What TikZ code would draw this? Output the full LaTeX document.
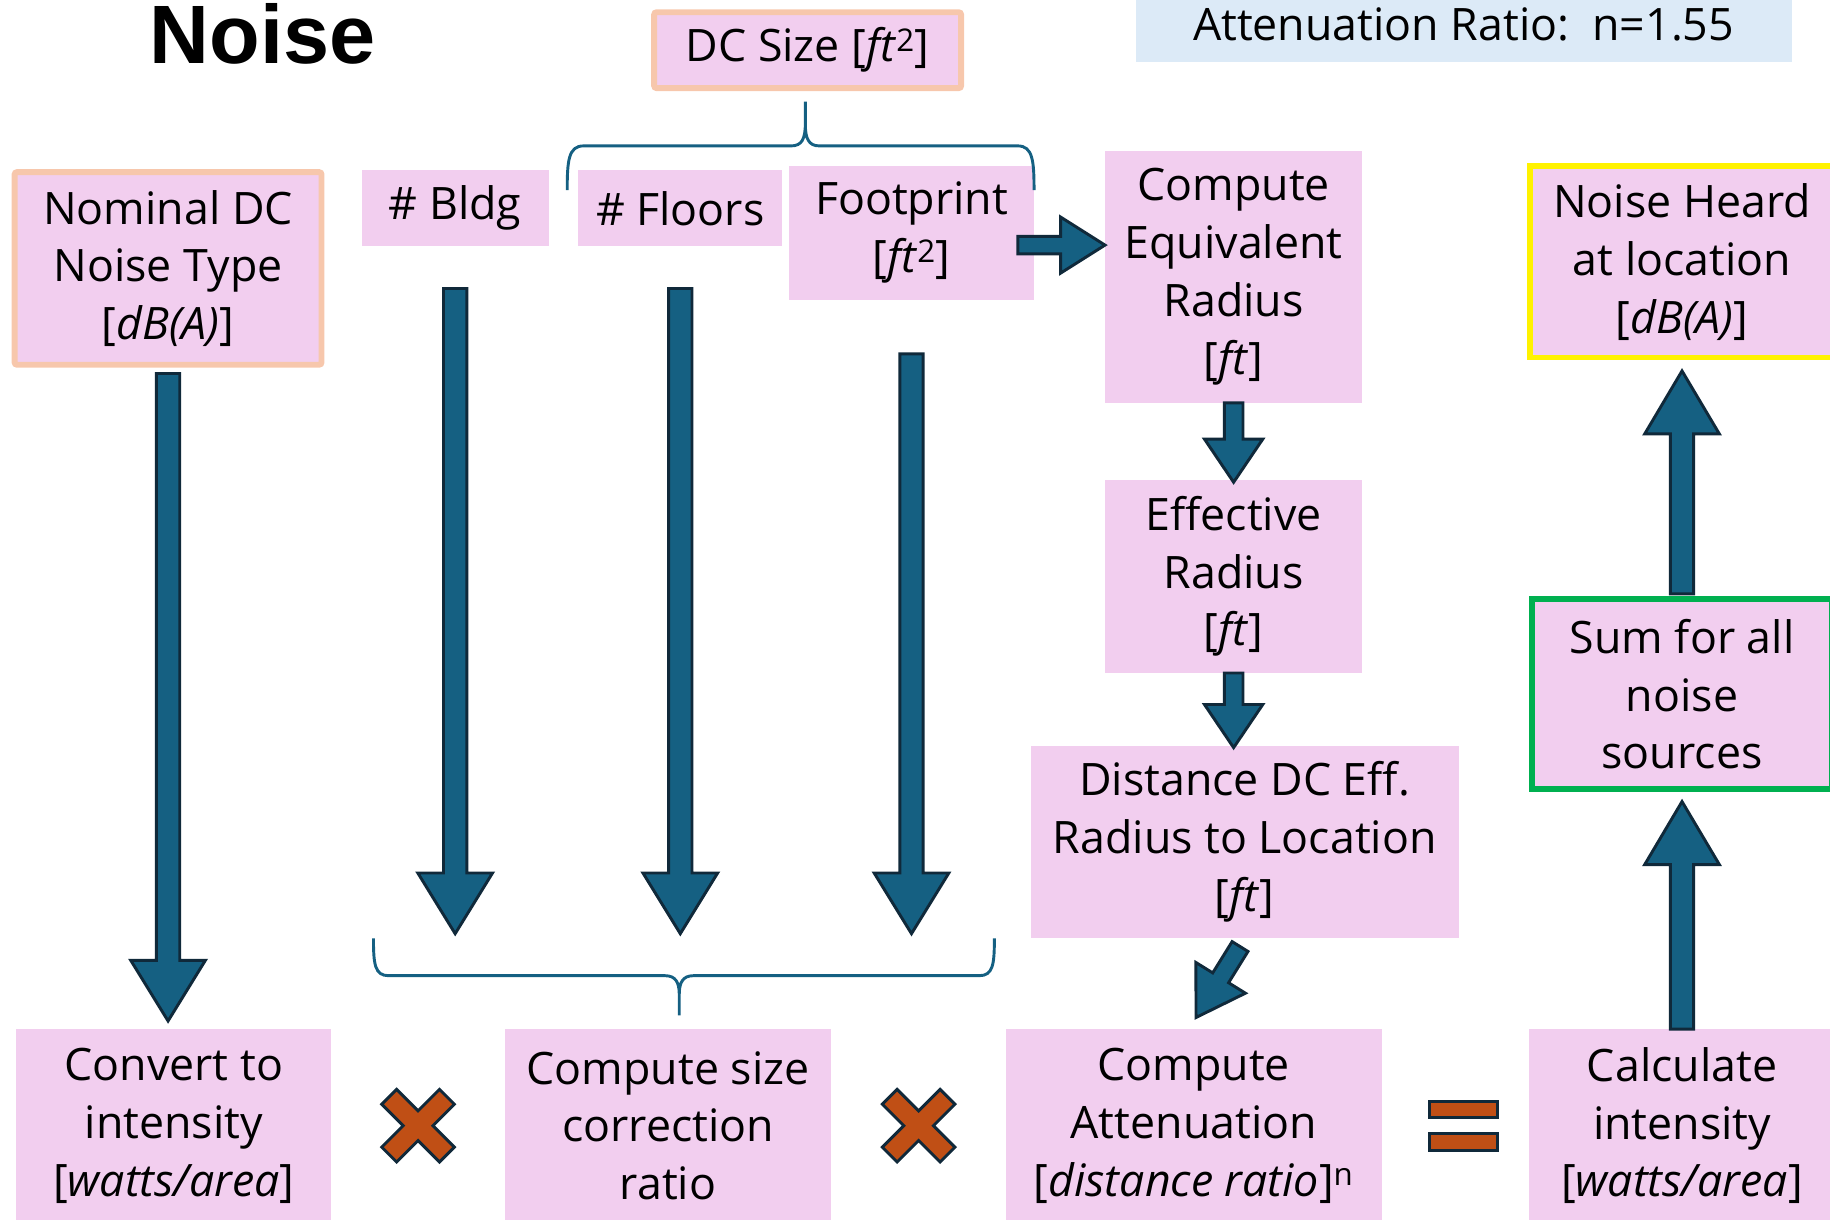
\documentclass[tikz,border=0pt]{standalone}
\usepackage{fontspec}
\setmainfont{Open Sans}
\newfontfamily\titlefont{Liberation Sans}
\usepackage{tikz}
\usetikzlibrary{positioning,calc}

\definecolor{boxpink}{HTML}{F2CEEF}
\definecolor{peach}{HTML}{F7C7AC}
\definecolor{paleblue}{HTML}{DCEAF7}
\definecolor{arrowfill}{HTML}{156082}
\definecolor{arrowline}{HTML}{10293A}
\definecolor{markorange}{HTML}{C04F15}
\definecolor{sumgreen}{HTML}{00B050}

% block arrow: from, to, half shaft, half head, head length
\newcommand{\blockarrow}[5]{%
  \coordinate (ba) at (#1);
  \coordinate (bb) at (#2);
  \coordinate (bn) at ($(bb)!#5!(ba)$);
  \draw[fatarrow] ($(ba)!#3!90:(bb)$) -- ($(bn)!#3!90:(bb)$) -- ($(bn)!#4!90:(bb)$)
    -- (bb) -- ($(bn)!#4!-90:(bb)$) -- ($(bn)!#3!-90:(bb)$) -- ($(ba)!#3!-90:(bb)$) -- cycle;
}

\tikzset{
  opmark/.style={fill=markorange, draw=arrowline, line width=2.5pt, line join=miter},
  pics/timesmark/.style={code={
    \draw[opmark, rotate=45] (-9,-35) -- (9,-35) -- (9,-9) -- (35,-9) -- (35,9) -- (9,9)
      -- (9,35) -- (-9,35) -- (-9,9) -- (-35,9) -- (-35,-9) -- (-9,-9) -- cycle;
  }},
  pics/equalsmark/.style={code={
    \draw[opmark] (-29,-21) rectangle (29,-7);
    \draw[opmark] (-29,7) rectangle (29,21);
  }},
}

\begin{document}
\begin{tikzpicture}[x=1pt, y=-1pt,
    box/.style={fill=boxpink, align=center, inner sep=0pt, font=\fontsize{38.3}{49.5}\selectfont},
    inbox/.style={box, draw=peach, line width=5pt, rounded corners=2pt},
    fatarrow/.style={fill=arrowfill, draw=arrowline, line width=2.5pt, line join=miter},
    bracket/.style={draw=arrowfill, line width=2.5pt},
  ]
  \useasboundingbox (0,0) rectangle (1568,1045);

  \node[font=\titlefont\bfseries\fontsize{71}{80}\selectfont, anchor=base] (title) at (225,54) {Noise};
  \node[box, fill=paleblue, minimum width=562, minimum height=65] (ratio) at (1254,20.5) {Attenuation Ratio:~~n=1.55};

  % inputs
  \node[inbox, minimum width=263, minimum height=65] (dcsize) at (692,43) {DC Size [\textit{ft}\textsuperscript{2}]};
  \node[inbox, minimum width=263, minimum height=165] (nominal) at (144,230) {Nominal DC\\Noise Type\\{}[\textit{dB(A)}]};
  \node[box, minimum width=160, minimum height=65] (bldg) at (390,178.5) {\# Bldg};
  \node[box, minimum width=175, minimum height=65, right=25pt of bldg] (floors) {\# Floors};
  \node[box, minimum width=210, minimum height=115] (foot) at (781,199.5) {Footprint\\{}[\textit{ft}\textsuperscript{2}]};

  % radius chain
  \node[box, minimum width=220, minimum height=216] (eqrad) at (1057,237) {Compute\\Equivalent\\Radius\\{}[\textit{ft}]};
  \node[box, minimum width=220, minimum height=165, below=66pt of eqrad] (effrad) {Effective\\Radius\\{}[\textit{ft}]};
  \node[box, minimum width=367, minimum height=165, below=62pt of effrad, xshift=9.5pt] (dist) {Distance DC Eff.\\Radius to Location\\{}[\textit{ft}]};

  % bottom row
  \node[box, minimum width=270, minimum height=165] (convert) at (149,964.5) {Convert to\\intensity\\{}[\textit{watts/area}]};
  \node[box, minimum width=280, minimum height=165, right=148pt of convert] (sizecorr) {Compute size\\correction\\ratio};
  \node[box, minimum width=322, minimum height=165, right=149pt of sizecorr] (atten) {Compute\\Attenuation\\{}[\textit{distance ratio}]\textsuperscript{n}};
  \node[box, minimum width=262, minimum height=165, right=126pt of atten] (calc) {Calculate\\intensity\\{}[\textit{watts/area}]};

  % outputs
  \node[box, draw=sumgreen, line width=5pt, minimum width=257, minimum height=163, above=203pt of calc] (sum) {Sum for all\\noise\\sources};
  \node[box, draw=yellow, line width=5pt, minimum width=261, minimum height=164, above=202pt of sum] (heard) {Noise Heard\\at location\\{}[\textit{dB(A)}]};

  % braces
  \coordinate (bracetop) at (320,800);
  \coordinate (arrowrow) at (0,210);
  \draw[bracket] (486,163) .. controls (486,138) and (487,125) .. (500,125) -- (678,125)
    .. controls (687,125) and (690,119) .. (690,106) -- (690,87)
    (690,106) .. controls (690,119) and (693,125) .. (702,125) -- (872,125)
    .. controls (885,125) and (886,138) .. (886,163);
  \draw[bracket] (320,804) .. controls (320,826) and (321,836) .. (333,836) -- (570,836)
    .. controls (579,836) and (582,842) .. (582,852) -- (582,870)
    (582,852) .. controls (582,842) and (585,836) .. (594,836) -- (839,836)
    .. controls (851,836) and (852,826) .. (852,804);

  % arrows
  \blockarrow{[yshift=-5pt]nominal.south}{[yshift=7pt]nominal.south |- convert.north}{10pt}{32pt}{52pt}
  \blockarrow{[yshift=-36pt]bldg.south}{bldg.south |- bracetop}{10pt}{32pt}{52pt}
  \blockarrow{[yshift=-36pt]floors.south}{floors.south |- bracetop}{10pt}{32pt}{52pt}
  \blockarrow{[yshift=-46pt]foot.south}{foot.south |- bracetop}{10pt}{32pt}{52pt}
  \blockarrow{$(foot.east |- arrowrow)+(-14,0)$}{eqrad.west |- arrowrow}{7.5pt}{24pt}{38pt}
  \blockarrow{eqrad.south}{[yshift=-2pt]effrad.north}{8pt}{25pt}{37pt}
  \blockarrow{effrad.south}{[yshift=-2pt]effrad.south |- dist.north}{8pt}{25pt}{37pt}
  \blockarrow{[xshift=-4pt,yshift=-7pt]dist.south}{[xshift=2pt,yshift=10pt]atten.north}{8pt}{25pt}{40pt}
  \blockarrow{calc.north}{[yshift=-8pt]sum.south}{10pt}{32pt}{54pt}
  \blockarrow{[yshift=2pt]sum.north}{[yshift=-9pt]heard.south}{10pt}{32pt}{54pt}

  % operators
  \pic (times1) at ($(convert.east)!0.5!(sizecorr.west)$) {timesmark};
  \pic (times2) at ($(sizecorr.east)!0.5!(atten.west)$) {timesmark};
  \pic (equal) at ($(atten.east)!0.5!(calc.west)+(7,0)$) {equalsmark};
\end{tikzpicture}
\end{document}
